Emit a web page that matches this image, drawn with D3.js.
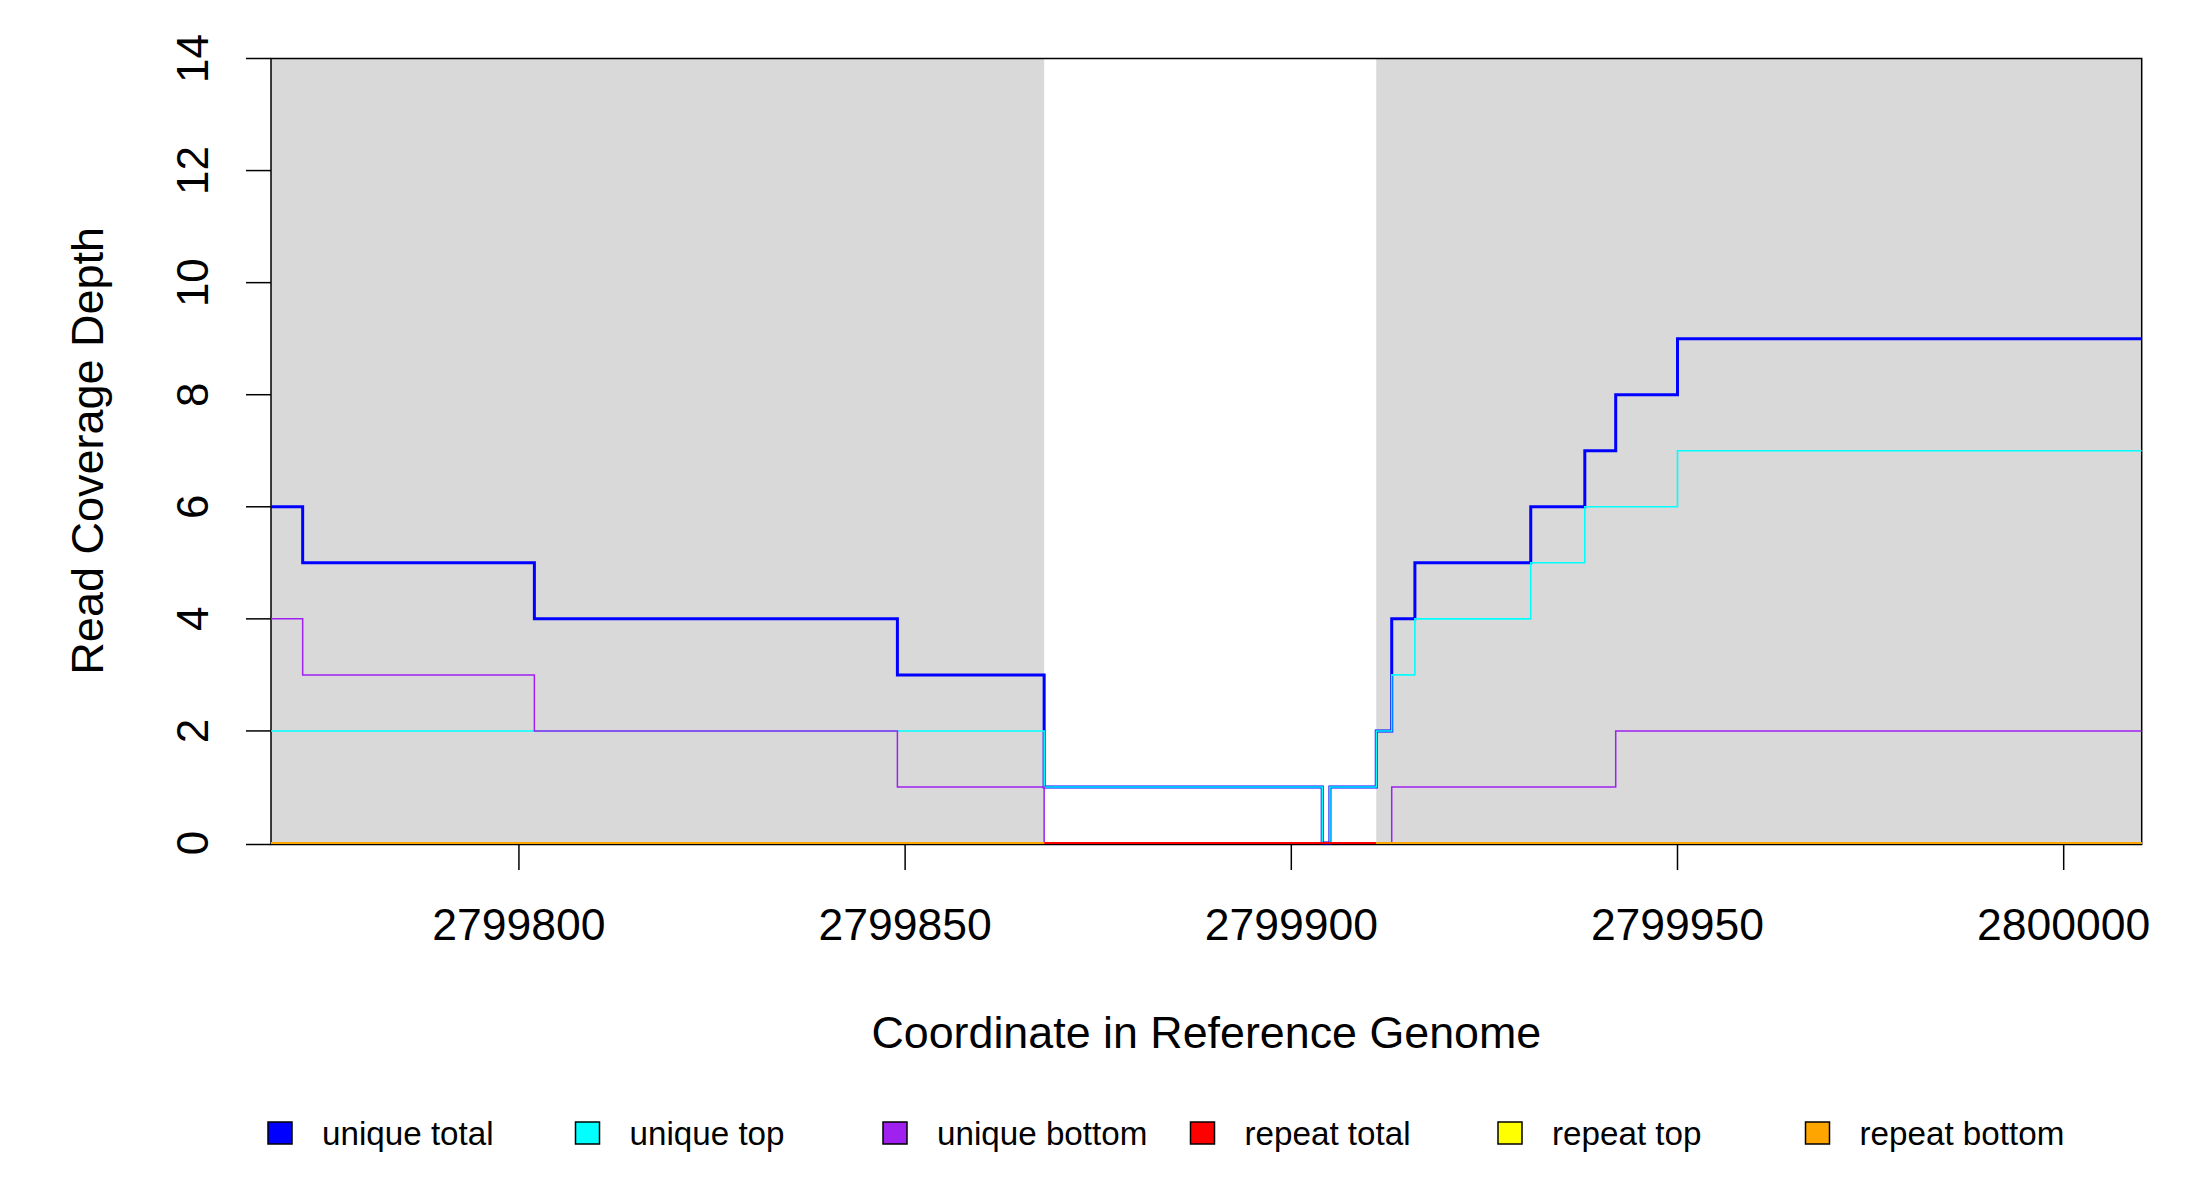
<!DOCTYPE html>
<html>
<head>
<meta charset="utf-8">
<script src="https://cdn.jsdelivr.net/npm/d3@7"></script>
<style>
  html, body { margin: 0; padding: 0; background: #fff; }
  svg text { font-family: "Liberation Sans", Arial, sans-serif; fill: #000; }
</style>
</head>
<body>
<svg id="chart" width="2200" height="1200"></svg>
<script>
// ---- data ----
const positions = [2799760, 2799772, 2799802, 2799849, 2799868, 2799904, 2799905, 2799911, 2799913, 2799916, 2799931, 2799938, 2799942, 2799950, 2800020];
const uniqueTotal  = [6, 5, 4, 3, 1, 0, 1, 2, 4, 5, 6, 7, 8, 9];
const uniqueTop    = [2, 2, 2, 2, 1, 0, 1, 2, 3, 4, 5, 6, 6, 7];
const uniqueBottom = [4, 3, 2, 1, 0, 0, 0, 0, 1, 1, 1, 1, 2, 2];
const repeatTotal  = [0, 0, 0, 0, 0, 0, 0, 0, 0, 0, 0, 0, 0, 0];
const repeatTop    = [0, 0, 0, 0, 0, 0, 0, 0, 0, 0, 0, 0, 0, 0];
const repeatBottom = [0, 0, 0, 0, 0, 0, 0, 0, 0, 0, 0, 0, 0, 0];
const shadeStart = [2799760, 2799911];
const shadeEnd   = [2799868, 2800020];
const xDomain = [2799767.9, 2800010.1];
const yDomain = [0, 14];
const xTicks = [2799800, 2799850, 2799900, 2799950, 2800000];
const yTicks = [0, 2, 4, 6, 8, 10, 12, 14];
const seriesNames = ["unique total", "unique top", "unique bottom", "repeat total", "repeat top", "repeat bottom"];
const seriesColors = ["#0000FF", "#00FFFF", "#A020F0", "#FF0000", "#FFFF00", "#FFA500"];
const xTitle = "Coordinate in Reference Genome";
const yTitle = "Read Coverage Depth";

// ---- layout ----
const L = 271, R = 2141.7, T = 58.5, B = 843;
const svg = d3.select("#chart");
const x = d3.scaleLinear().domain(xDomain).range([L, R]);
const y = d3.scaleLinear().domain(yDomain).range([B, T]);

const defs = svg.append("defs");
defs.append("clipPath").attr("id", "plotClip")
  .append("rect").attr("x", L).attr("y", T - 5).attr("width", R - L).attr("height", B - T + 10);
const shadeClip = defs.append("clipPath").attr("id", "shadeClip");
shadeStart.forEach((s, i) => {
  shadeClip.append("rect")
    .attr("x", Math.max(L, x(s))).attr("y", T - 5)
    .attr("width", Math.min(R, x(shadeEnd[i])) - Math.max(L, x(s))).attr("height", B - T + 10);
});

const plot = svg.append("g").attr("clip-path", "url(#plotClip)");

// shaded regions
plot.selectAll("rect.shade").data(shadeStart.map((s, i) => [s, shadeEnd[i]]))
  .join("rect").attr("class", "shade")
  .attr("x", d => x(d[0])).attr("y", y(yDomain[1]))
  .attr("width", d => x(d[1]) - x(d[0])).attr("height", y(yDomain[0]) - y(yDomain[1]) + 1.5)
  .attr("fill", "#D9D9D9");

// plot box (drawn beneath the lines)
svg.append("rect")
  .attr("x", L).attr("y", T).attr("width", R - L).attr("height", B - T + 1.5)
  .attr("fill", "none").attr("stroke", "#000").attr("stroke-width", 1.5);

const stepLine = d3.line()
  .x(d => x(d[0])).y(d => y(d[1]))
  .curve(d3.curveStepAfter);

function toPoints(vals) {
  const pts = vals.map((v, i) => [positions[i], v]);
  pts.push([positions[positions.length - 1], vals[vals.length - 1]]);
  return pts;
}

const lines = svg.append("g").attr("clip-path", "url(#plotClip)");
const series = [uniqueTotal, uniqueTop, uniqueBottom, repeatTotal, repeatTop, repeatBottom];
const widths = [3, 1.6, 1.5, 1.8, 1.8, 2.2];
series.forEach((vals, i) => {
  const path = lines.append("path")
    .attr("d", stepLine(toPoints(vals)))
    .attr("fill", "none")
    .attr("stroke", seriesColors[i])
    .attr("stroke-width", widths[i])
    .attr("stroke-linejoin", "miter");
  if (i === 4 || i === 5) path.attr("clip-path", "url(#shadeClip)");
});

// y axis ticks
const yAxis = svg.append("g");
yAxis.selectAll("line").data(yTicks).join("line")
  .attr("x1", L - 25).attr("x2", L)
  .attr("y1", d => y(d) + (d === 0 ? 1.5 : 0)).attr("y2", d => y(d) + (d === 0 ? 1.5 : 0))
  .attr("stroke", "#000").attr("stroke-width", 1.5);
yAxis.selectAll("text").data(yTicks).join("text")
  .attr("transform", d => `translate(192,${y(d)}) rotate(-90)`)
  .attr("text-anchor", "middle")
  .attr("dominant-baseline", "central")
  .style("font-size", "44px")
  .text(d => d);

// x axis ticks
const xAxis = svg.append("g");
xAxis.selectAll("line").data(xTicks).join("line")
  .attr("x1", d => x(d)).attr("x2", d => x(d))
  .attr("y1", B + 1.5).attr("y2", B + 27)
  .attr("stroke", "#000").attr("stroke-width", 1.5);
xAxis.selectAll("text").data(xTicks).join("text")
  .attr("x", d => x(d)).attr("y", 940)
  .attr("text-anchor", "middle")
  .style("font-size", "44.5px")
  .text(d => d);

// titles
svg.append("text").attr("x", (L + R) / 2).attr("y", 1048)
  .attr("text-anchor", "middle").style("font-size", "44.8px").text(xTitle);
svg.append("text")
  .attr("transform", `translate(87,${(T + B) / 2}) rotate(-90)`)
  .attr("text-anchor", "middle").attr("dominant-baseline", "central")
  .style("font-size", "45px").text(yTitle);

// legend
const lg = svg.append("g");
const items = lg.selectAll("g").data(seriesNames).join("g")
  .attr("transform", (d, i) => `translate(${268 + i * 307.5},1133)`);
items.append("rect")
  .attr("x", 0).attr("y", -11).attr("width", 24).attr("height", 22)
  .attr("fill", (d, i) => seriesColors[i]).attr("stroke", "#000").attr("stroke-width", 1.5);
items.append("text")
  .attr("x", 54).attr("y", 0)
  .attr("dominant-baseline", "central")
  .style("font-size", "33.2px")
  .text(d => d);
</script>
</body>
</html>
